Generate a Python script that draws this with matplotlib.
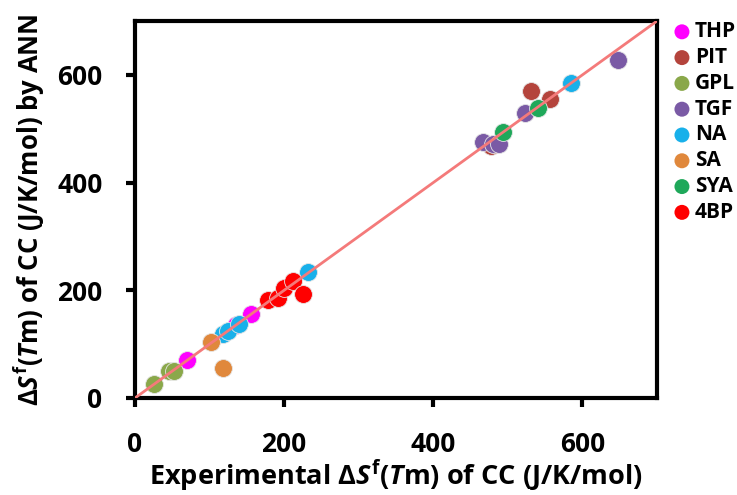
import matplotlib
matplotlib.use("Agg")
import matplotlib.pyplot as plt

FONT = 'Open Sans'
plt.rcParams['font.family'] = [FONT, 'DejaVu Sans']
plt.rcParams['font.weight'] = 'bold'
plt.rcParams['mathtext.fontset'] = 'custom'
plt.rcParams['mathtext.rm'] = FONT + ':bold'
plt.rcParams['mathtext.it'] = FONT + ':bold:italic'
plt.rcParams['mathtext.bf'] = FONT + ':bold'

groups = ["THP", "PIT", "GPL", "TGF", "NA", "SA", "SYA", "4BP"]
colors = ["#ff00ff", "#b4443c", "#8aa84a", "#7a5aa5", "#18b0ea", "#e0883c", "#1fa85a", "#ff0000"]

thp_x = [70, 135, 155]
thp_y = [70, 135, 156]
pit_x = [477, 531, 556]
pit_y = [468, 570, 555]
gpl_x = [25, 45, 52]
gpl_y = [26, 50, 50]
tgf_x = [467, 480, 488, 523, 648]
tgf_y = [476, 472, 472, 530, 628]
na_x = [118, 125, 140, 232, 585]
na_y = [118, 125, 137, 234, 585]
sa_x = [102, 118]
sa_y = [104, 55]
sya_x = [494, 540]
sya_y = [494, 538]
bp_x = [178, 192, 200, 212, 225]
bp_y = [182, 186, 205, 218, 193]

xs = [thp_x, pit_x, gpl_x, tgf_x, na_x, sa_x, sya_x, bp_x]
ys = [thp_y, pit_y, gpl_y, tgf_y, na_y, sa_y, sya_y, bp_y]

fig = plt.figure(figsize=(7.37, 4.95), dpi=100)
ax = fig.add_axes([0.1832, 0.196, 0.7083, 0.7616])

ax.plot([0, 700], [0, 700], color="#f47a7a", lw=2, zorder=3)
handles = []
for g, c, x, y in zip(groups, colors, xs, ys):
    h = ax.scatter(x, y, s=165, color=c, edgecolors="#e6e6e6", linewidths=0.6, zorder=2, label=g)
    handles.append(h)

ax.set_xlim(0, 700)
ax.set_ylim(0, 700)
ax.set_xticks([0, 200, 400, 600])
ax.set_yticks([0, 200, 400, 600])
for s in ax.spines.values():
    s.set_linewidth(3)
ax.tick_params(direction='out', length=6.5, width=3, labelsize=19)
ax.tick_params(axis='x', pad=17)
ax.tick_params(axis='y', pad=17)
for lab in ax.get_xticklabels() + ax.get_yticklabels():
    lab.set_fontweight('bold')

ax.set_xlabel(r'Experimental Δ$S^{\rm f}$($T$m) of CC (J/K/mol)', fontsize=19.5, fontweight='bold', labelpad=0)
ax.set_ylabel(r'Δ$S^{\rm f}$($T$m) of CC (J/K/mol) by ANN', fontsize=18.5, fontweight='bold', labelpad=7)

leg = fig.legend(handles=handles, labels=groups, loc='upper left', bbox_to_anchor=(0.914, 0.957),
                 frameon=False, fontsize=15, handlelength=0.8, handletextpad=0.22, labelspacing=0.23,
                 markerscale=0.84, borderaxespad=0, borderpad=0)
for t in leg.get_texts():
    t.set_fontweight('bold')
for h in leg.legend_handles:
    h.set_edgecolor('none')

fig.savefig("out.png", dpi=100)
